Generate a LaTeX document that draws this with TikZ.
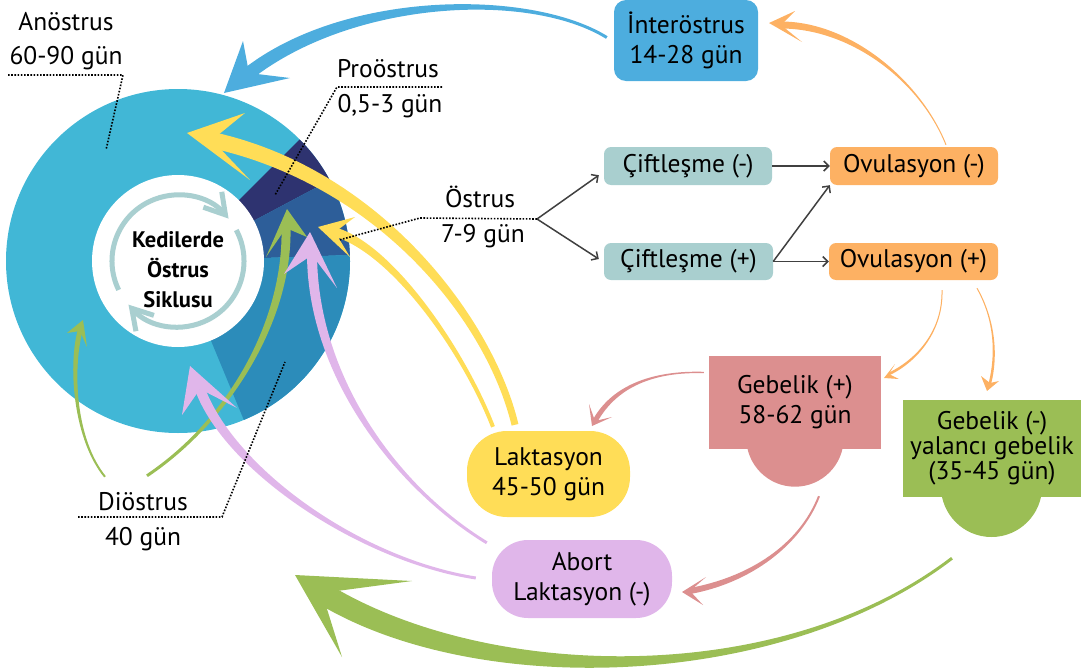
\documentclass[tikz,border=0pt]{standalone}
\usepackage{fontspec}
\setmainfont{PT Sans}
\usepackage{tikz}
\usetikzlibrary{calc, arrows.meta}

\definecolor{anocol}{HTML}{41B7D6}
\definecolor{procol}{HTML}{2E3370}
\definecolor{ostcol}{HTML}{2D5E99}
\definecolor{diocol}{HTML}{2C8CBA}
\definecolor{intercol}{HTML}{4DADDE}
\definecolor{ciftcol}{HTML}{A9CFCF}
\definecolor{ovucol}{HTML}{FDB163}
\definecolor{gebposcol}{HTML}{DC8F8F}
\definecolor{gebnegcol}{HTML}{9BBE55}
\definecolor{lakcol}{HTML}{FFDD57}
\definecolor{abocol}{HTML}{E0B6EA}
\definecolor{cyccol}{HTML}{A9CFD0}
\definecolor{linkgray}{HTML}{404040}

\tikzset{tail/.store in=\tw, tail=1pt}

% tapered arrow: colour (and tail=...), tail, control 1, control 2, notch, half width, tip, barb 1, barb 2
\newcommand\swoosh[9]{%
  \fill[#1] ($(#2)!\tw!-90:(#3)$) .. controls ($(#3)!\tw!90:(#2)$) and ($(#4)!#6pt!-90:(#5)$) .. ($(#5)!#6pt!90:(#4)$)
    -- ($(#5)!#6pt!-90:(#4)$) .. controls ($(#4)!#6pt!90:(#5)$) and ($(#3)!\tw!-90:(#2)$) .. ($(#2)!\tw!90:(#3)$) -- cycle;
  \fill[#1] (#7) -- (#8) -- (#5) -- (#9) -- cycle;}

\begin{document}
\begin{tikzpicture}[x=1pt, y=-1pt,
    lbl/.style={font=\fontsize{25.5}{30}\selectfont, inner sep=0pt, anchor=base},
    box/.style={font=\fontsize{25.5}{30}\selectfont, align=center, inner sep=0pt},
    leader/.style={line width=1.6pt, dash pattern=on 1.6pt off 1.6pt},
    link/.style={draw=linkgray, line width=1.5pt, -{Straight Barb[length=5pt,width=10pt]}},
    cycarrow/.style={draw=cyccol, line width=5pt, -{Straight Barb[length=20pt,width=24pt]}}]

    \useasboundingbox (0,0) rectangle (1087,672);

    % ring of the cycle
    \coordinate (ring) at (178,261);
    \fill[anocol] (ring) circle (172);
    \foreach \a/\b/\c in {-45/-28/procol, -28/-2/ostcol, -2/67.5/diocol}
        \fill[\c] (ring) -- ([shift={(\a:172)}]ring) arc[start angle=\a, end angle=\b, radius=172] -- cycle;
    \fill[white] (ring) circle (86);

    \draw[cycarrow] ([shift={(-206:66)}]ring) arc[start angle=-206, end angle=-40, radius=66];
    \draw[cycarrow] ([shift={(-28:66)}]ring) arc[start angle=-28, end angle=138.6, radius=66];
    \node[font=\bfseries\fontsize{22.5}{30}\selectfont, align=center] (title) at (178,270) {Kedilerde\\Östrus\\Siklusu};

    % boxes
    \node[box, fill=intercol, rounded corners=12pt, minimum width=144pt, minimum height=81pt] (inter) at (686,40.5) {İnteröstrus\\14-28 gün};
    \node[box, fill=ciftcol, rounded corners=7pt, minimum width=168pt, minimum height=38pt] (cift1) at (688,166) {Çiftleşme (-)};
    \node[box, fill=ciftcol, rounded corners=7pt, minimum width=169pt, minimum height=37pt] (cift2) at (688.5,261.5) {Çiftleşme (+)};
    \node[box, fill=ovucol, rounded corners=7pt, minimum width=168pt, minimum height=38pt] (ovu1) at (914,166) {Ovulasyon (-)};
    \node[box, fill=ovucol, rounded corners=7pt, minimum width=169pt, minimum height=37pt] (ovu2) at (913.5,261.5) {Ovulasyon (+)};
    \fill[gebposcol] (795,438) circle (48.7);
    \node[box, fill=gebposcol, minimum width=172pt, minimum height=93pt] (gebpos) at (795,402.5) {Gebelik (+)\\58-62 gün};
    \fill[gebnegcol] (991.5,486.4) circle (50.6);
    \node[box, fill=gebnegcol, minimum width=178pt, minimum height=97pt, font=\fontsize{25.5}{25}\selectfont] (gebneg) at (992,448.5) {Gebelik (-)\\yalancı gebelik\\(35-45 gün)};
    \node[box, fill=lakcol, rounded corners=40pt, minimum width=163pt, minimum height=86pt] (lak) at (548.5,474) {Laktasyon\\45-50 gün};
    \node[box, fill=abocol, rounded corners=36pt, minimum width=180pt, minimum height=78pt] (abo) at (582,579) {Abort\\Laktasyon (-)};

    % phase labels
    \node[lbl] (anoname) at (66,30) {Anöstrus};
    \node[lbl] (anodays) at (66,64) {60-90 gün};
    \node[lbl] (proname) at (388,77) {Proöstrus};
    \node[lbl] (prodays) at (390,112) {0,5-3 gün};
    \node[lbl] (ostname) at (480,207) {Östrus};
    \node[lbl] (ostdays) at (483,242) {7-9 gün};
    \node[lbl] (dioname) at (143,510) {Diöstrus};
    \node[lbl] (diodays) at (143,545) {40 gün};

    % mating and ovulation
    \coordinate (fork) at (537,219);
    \draw[link] (fork) -- ($(cift1.south west)+(-5,-10)$);
    \draw[link] (fork) -- ($(cift2.west)+(-5,-2.5)$);
    \draw[link] (cift1) -- (ovu1);
    \draw[link] (cift2) -- (ovu2);
    \draw[link] (cift2.east) -- (ovu1.south west);

    % arrow tails
    \coordinate (interT) at ($(inter.west)+(-7,-3)$);
    \coordinate (ovuT) at ($(ovu1.north)+(32,-2)$);
    \coordinate (gebposT) at ($(ovu2.south)+(28.5,10)$);
    \coordinate (gebnegT) at ($(ovu2.south)+(63.5,8)$);
    \coordinate (lakT) at ($(gebpos.west)+(-5,-30)$);
    \coordinate (aboT) at ($(gebpos.south)+(24,47)$);
    \coordinate (backT) at ($(gebneg.south)+(-40,61)$);
    \coordinate (lakbigT) at ($(lak.north)+(-33.5,-6)$);
    \coordinate (lakostT) at ($(lak.north)+(-55.5,-4)$);
    \coordinate (dioshortT) at ($(dioname.north)+(-38,-15)$);
    \coordinate (diolongT) at ($(dioname.north)+(4,-16)$);
    \coordinate (abo1T) at ($(abo.north west)+(-5,3)$);
    \coordinate (abo2T) at ($(abo.west)+(-16,-1)$);

    % arrows
    \swoosh{intercol, tail=1.5pt}{interT}{530,-10}{350,-5}{249,73}{6.5}{224,93}{243,41}{290,78}
    \swoosh{ovucol, tail=0.5pt}{ovuT}{920,80}{850,25}{781,25}{3.5}{769,23}{795,11}{802,42}
    \swoosh{ovucol, tail=0.5pt}{gebposT}{943,330}{918,360}{889,374}{1.3}{884,378}{895,364}{899,379}
    \swoosh{ovucol, tail=0.5pt}{gebnegT}{995,320}{997,355}{990,383}{1.3}{987,391}{981,376}{999,381}
    \swoosh{gebposcol, tail=0.7pt}{lakT}{655,371}{615,385}{595,421}{2.5}{592,426}{589,404}{612,417}
    \swoosh{gebposcol, tail=1pt}{aboT}{800,545}{750,580}{690,591}{3}{682,592}{706,577}{703,605}
    \swoosh{lakcol, tail=3.5pt}{lakbigT}{490,320}{380,177}{212,140}{8}{187,133}{245,113}{250,180}
    \swoosh{lakcol, tail=2pt}{lakostT}{464,352}{393,249}{335,232}{4.5}{318,227}{355,217}{350,257}
    \swoosh{gebnegcol, tail=1pt}{dioshortT}{75,440}{70,370}{80,331}{2.5}{83,320}{67,333}{87,347}
    \swoosh{gebnegcol, tail=1.5pt}{diolongT}{230,420}{288,320}{286,228}{4.5}{287,209}{266,257}{307,237}
    \swoosh{abocol, tail=1.5pt}{abo1T}{400,490}{313,380}{312,255}{5}{310,232}{284,274}{337,288}
    \swoosh{abocol, tail=1.5pt}{abo2T}{360,560}{230,470}{200,389}{5}{190,366}{182,415}{237,408}
    \swoosh{gebnegcol, tail=1.5pt}{backT}{780,690}{480,690}{322,593}{11}{295,575}{412,581}{342,657}

    % leaders
    \draw[leader] (8,75) -- (123,75) -- (106,150);
    \draw[leader] (442,87) -- (337,87) -- (275,195);
    \draw[leader] (fork) -- (420,218) -- (339,240);
    \draw[leader] (78,517) -- (222,517) -- (285,362);
\end{tikzpicture}
\end{document}
